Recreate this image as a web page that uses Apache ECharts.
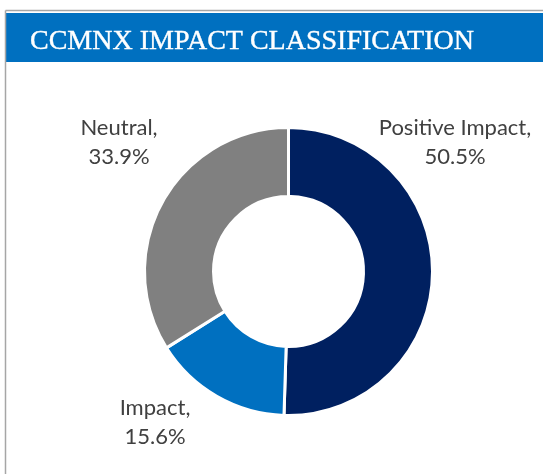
<!DOCTYPE html>
<html>
<head>
<meta charset="utf-8">
<script src="https://cdn.jsdelivr.net/npm/echarts@6/dist/echarts.min.js"></script>
<style>html,body{margin:0;padding:0;background:#fff}#c{width:543px;height:474px}</style>
</head>
<body>
<div id="c"></div>
<script>
const titleText = 'CCMNX IMPACT CLASSIFICATION';
const categories = ['Positive Impact', 'Impact', 'Neutral'];
const values = [50.5, 15.6, 33.9];
const colors = ['#002060', '#0070C0', '#808080'];

const labelPos = [[455, 142], [155, 422], [119, 142]];

const chart = echarts.init(document.getElementById('c'));
chart.setOption({
  animation: false,
  title: {
    text: titleText,
    left: 25, top: 23,
    textStyle: { color: '#fff', fontFamily: 'Liberation Serif', fontWeight: 'normal', fontSize: 28, textBorderColor: '#fff', textBorderWidth: 0.4 }
  },
  graphic: [
    { type: 'rect', shape: { x: 6, y: 13, width: 540, height: 49 }, style: { fill: '#0070C0' }, z: -1 },
    { type: 'line', shape: { x1: 5.5, y1: 10.5, x2: 543, y2: 10.5 }, style: { stroke: '#a6a6a6', lineWidth: 1.5 } },
    { type: 'line', shape: { x1: 5.5, y1: 10.5, x2: 5.5, y2: 474 }, style: { stroke: '#a6a6a6', lineWidth: 1.5 } }
  ],
  series: [{
    type: 'pie',
    center: [288.5, 271.5],
    radius: [75, 144],
    startAngle: 90,
    clockwise: true,
    itemStyle: { borderColor: '#fff', borderWidth: 3 },
    label: {
      show: true,
      formatter: p => p.name + ',\n' + p.value.toFixed(1) + '%',
      fontFamily: 'Lato',
      fontSize: 22,
      color: '#404040',
      lineHeight: 29,
      align: 'center',
      overflow: 'none',
      width: 300
    },
    labelLine: { show: false },
    labelLayout: p => ({ x: labelPos[p.dataIndex][0], y: labelPos[p.dataIndex][1], align: 'center', verticalAlign: 'middle' }),
    data: categories.map((n, i) => ({ name: n, value: values[i], itemStyle: { color: colors[i] } }))
  }]
});
</script>
</body>
</html>
